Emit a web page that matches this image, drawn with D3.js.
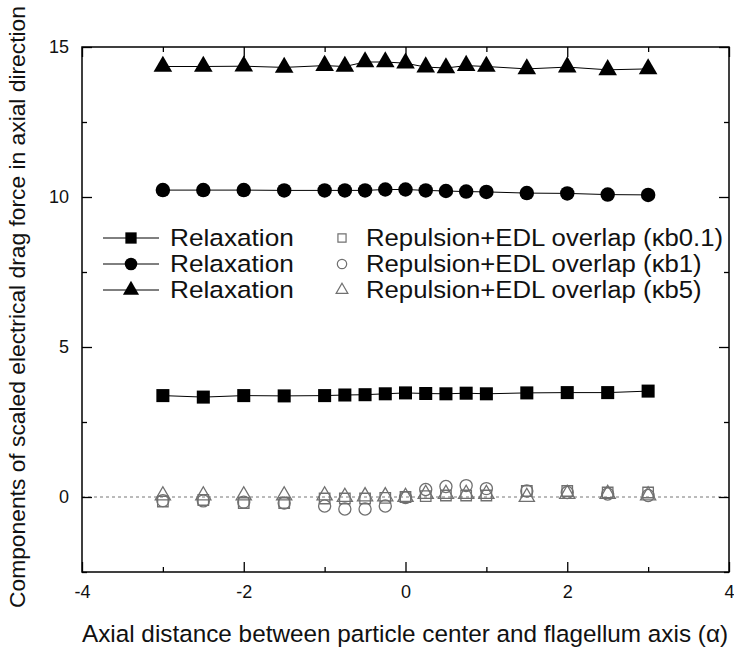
<!DOCTYPE html>
<html>
<head>
<meta charset="utf-8">
<script src="https://cdn.jsdelivr.net/npm/d3@7"></script>
<style>
  html, body { margin: 0; padding: 0; background: #fff; }
  svg { display: block; font-family: "Liberation Sans", Arial, sans-serif; }
</style>
</head>
<body>
<svg id="chart" width="734" height="653"></svg>
<script>
// Axial positions of the particle (in units of alpha)
const positions = [-3, -2.5, -2, -1.5, -1, -0.75, -0.5, -0.25, 0, 0.25, 0.5, 0.75, 1, 1.5, 2, 2.5, 3];

// Relaxation component for the three kappa*b values
const relaxKb01 = [3.38, 3.33, 3.38, 3.37, 3.38, 3.40, 3.41, 3.44, 3.47, 3.45, 3.44, 3.46, 3.44, 3.47, 3.48, 3.48, 3.53];
const relaxKb1  = [10.23, 10.23, 10.23, 10.22, 10.22, 10.22, 10.22, 10.25, 10.25, 10.22, 10.20, 10.18, 10.17, 10.13, 10.12, 10.08, 10.07];
const relaxKb5  = [14.35, 14.35, 14.36, 14.32, 14.38, 14.35, 14.50, 14.50, 14.46, 14.33, 14.30, 14.38, 14.35, 14.27, 14.33, 14.24, 14.27];

// Repulsion + EDL overlap component for the three kappa*b values
const repKb01 = [-0.15, -0.10, -0.20, -0.20, -0.05, -0.05, -0.05, -0.03, 0.00, 0.03, 0.05, 0.05, 0.05, 0.20, 0.20, 0.15, 0.15];
const repKb1  = [-0.12, -0.13, -0.17, -0.20, -0.30, -0.40, -0.40, -0.30, -0.02, 0.25, 0.35, 0.38, 0.28, 0.20, 0.15, 0.10, 0.05];
const repKb5  = [0.05, 0.05, 0.05, 0.05, 0.05, 0.00, 0.02, 0.02, 0.00, 0.10, 0.10, 0.10, 0.10, 0.00, 0.10, 0.10, 0.05];

const xTicks = [-4, -2, 0, 2, 4];
const xMinorTicks = [-3, -1, 1, 3];
const yTicks = [0, 5, 10, 15];
const yMinorTicks = [-2.5, 2.5, 7.5, 12.5];

const legendLabels = ["Relaxation", "Relaxation", "Relaxation",
  "Repulsion+EDL overlap (\u03bab0.1)", "Repulsion+EDL overlap (\u03bab1)", "Repulsion+EDL overlap (\u03bab5)"];

const svg = d3.select("#chart");
const plotLeft = 82, plotRight = 729, plotTop = 47, plotBottom = 572;

const x = d3.scaleLinear().domain([-4, 4]).range([plotLeft, plotRight]);
const y = d3.scaleLinear().domain([-2.5, 15]).range([plotBottom, plotTop]);

const openColor = "#707070";
const plainNum = d => String(d);

// Zero reference line
svg.append("line")
  .attr("x1", plotLeft).attr("x2", plotRight)
  .attr("y1", y(0)).attr("y2", y(0))
  .attr("stroke", "#777").attr("stroke-width", 1)
  .attr("stroke-dasharray", "3,3");

// Frame
svg.append("rect")
  .attr("x", plotLeft).attr("y", plotTop)
  .attr("width", plotRight - plotLeft).attr("height", plotBottom - plotTop)
  .attr("fill", "none").attr("stroke", "#000").attr("stroke-width", 1.5);

// Axes with inward ticks
svg.append("g").attr("transform", `translate(0,${plotBottom})`)
  .call(d3.axisBottom(x).tickValues(xTicks).tickSize(-10).tickPadding(13).tickFormat(plainNum));
svg.append("g").attr("transform", `translate(0,${plotBottom})`)
  .call(d3.axisBottom(x).tickValues(xMinorTicks).tickSize(-5).tickFormat(""));
svg.append("g").attr("transform", `translate(0,${plotTop})`)
  .call(d3.axisTop(x).tickValues(xTicks).tickSize(-10).tickFormat(""));
svg.append("g").attr("transform", `translate(0,${plotTop})`)
  .call(d3.axisTop(x).tickValues(xMinorTicks).tickSize(-5).tickFormat(""));

svg.append("g").attr("transform", `translate(${plotLeft},0)`)
  .call(d3.axisLeft(y).tickValues(yTicks).tickSize(-10).tickPadding(13).tickFormat(plainNum));
svg.append("g").attr("transform", `translate(${plotLeft},0)`)
  .call(d3.axisLeft(y).tickValues(yMinorTicks).tickSize(-5).tickFormat(""));
svg.append("g").attr("transform", `translate(${plotRight},0)`)
  .call(d3.axisRight(y).tickValues(yTicks).tickSize(-10).tickFormat(""));
svg.append("g").attr("transform", `translate(${plotRight},0)`)
  .call(d3.axisRight(y).tickValues(yMinorTicks).tickSize(-5).tickFormat(""));

svg.selectAll(".domain").remove();
svg.selectAll(".tick line").attr("stroke", "#000").attr("stroke-width", 1.3);
svg.selectAll(".tick text").attr("font-size", "18px").attr("fill", "#111")
  .attr("font-family", "'Liberation Sans', Arial, sans-serif");

// Axis titles
svg.append("text")
  .attr("x", 405).attr("y", 642)
  .attr("text-anchor", "middle").attr("font-size", "24.3px").attr("fill", "#111")
  .text("Axial distance between particle center and flagellum axis (\u03b1)");

svg.append("text")
  .attr("transform", `translate(25,307) rotate(-90)`)
  .attr("text-anchor", "middle").attr("font-size", "22.8px").attr("fill", "#111")
  .text("Components of scaled electrical drag force in axial direction");

// Symbol generators
const sym = {
  square: d3.symbol().type(d3.symbolSquare),
  circle: d3.symbol().type(d3.symbolCircle),
  triangle: d3.symbol().type(d3.symbolTriangle)
};

const filledSeries = [
  { vals: relaxKb01, shape: "square", size: 170 },
  { vals: relaxKb1, shape: "circle", size: 165 },
  { vals: relaxKb5, shape: "triangle", size: 150 }
];
const openSeries = [
  { vals: repKb01, shape: "square", size: 110 },
  { vals: repKb1, shape: "circle", size: 115 },
  { vals: repKb5, shape: "triangle", size: 100 }
];

const line = d3.line().x((d, i) => x(positions[i])).y(d => y(d));

// Open markers (repulsion + EDL overlap)
openSeries.forEach(s => {
  svg.append("g").selectAll("path")
    .data(s.vals).join("path")
    .attr("d", sym[s.shape].size(s.size))
    .attr("transform", (d, i) => `translate(${x(positions[i])},${y(d)})`)
    .attr("fill", "none").attr("stroke", openColor).attr("stroke-width", 1.3);
});

// Relaxation series: connecting line + filled markers
filledSeries.forEach(s => {
  svg.append("path").datum(s.vals)
    .attr("d", line).attr("fill", "none").attr("stroke", "#000").attr("stroke-width", 1);
  svg.append("g").selectAll("path")
    .data(s.vals).join("path")
    .attr("d", sym[s.shape].size(s.size))
    .attr("transform", (d, i) => `translate(${x(positions[i])},${y(d)})`)
    .attr("fill", "#000");
});

// Legend
const legendRows = [238, 264, 290];
const legend = svg.append("g");
filledSeries.forEach((s, i) => {
  const ly = legendRows[i];
  legend.append("line").attr("x1", 103).attr("x2", 159).attr("y1", ly).attr("y2", ly)
    .attr("stroke", "#000").attr("stroke-width", 1);
  legend.append("path").attr("d", sym[s.shape].size(s.size * 0.75))
    .attr("transform", `translate(131,${ly})`).attr("fill", "#000");
  legend.append("text")
    .attr("transform", `translate(170,${ly + 8}) scale(1.07,1)`)
    .attr("font-size", "24.5px").attr("fill", "#111").text(legendLabels[i]);
});
openSeries.forEach((s, i) => {
  const ly = legendRows[i];
  legend.append("path").attr("d", sym[s.shape].size(s.size * 0.6))
    .attr("transform", `translate(342,${ly})`)
    .attr("fill", "none").attr("stroke", openColor).attr("stroke-width", 1.2);
  legend.append("text")
    .attr("transform", `translate(366,${ly + 8}) scale(1.05,1)`)
    .attr("font-size", "24.5px").attr("fill", "#111").text(legendLabels[i + 3]);
});
</script>
</body>
</html>
